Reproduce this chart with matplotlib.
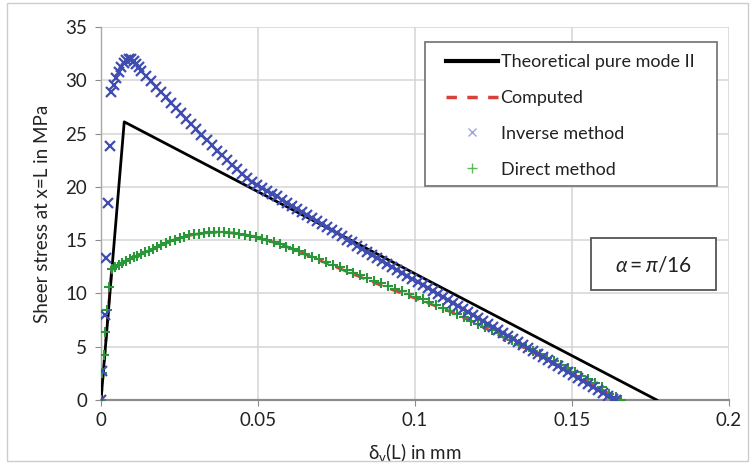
import matplotlib
matplotlib.use('Agg')
import matplotlib.pyplot as plt
from matplotlib.lines import Line2D
from matplotlib.patches import Rectangle
from matplotlib.ticker import FuncFormatter

# ---------------- data ----------------
theory_x = [0.0, 0.0074, 0.177]
theory_y = [0.0, 26.1, 0.0]

computed_x = [0, 0.0034, 0.008, 0.0125, 0.017, 0.021, 0.025, 0.029, 0.033, 0.037,
              0.041, 0.045, 0.05, 0.055, 0.06, 0.07, 0.08, 0.09, 0.1, 0.11,
              0.12, 0.13, 0.14, 0.15, 0.16, 0.1655]
computed_y = [0, 12.3, 13.05, 13.65, 14.2, 14.8, 15.2, 15.5, 15.68, 15.75,
              15.7, 15.55, 15.25, 14.8, 14.3, 13.05, 11.85, 10.65, 9.55, 8.45,
              7.1, 5.6, 4.1, 2.6, 0.9, 0]

inverse_x = [0.0, 0.0003, 0.0012, 0.0017, 0.0023, 0.0029, 0.0033, 0.0040, 0.0048, 0.0056,
             0.0064, 0.0072, 0.0080, 0.0088, 0.0096, 0.0104, 0.0112, 0.0120, 0.0128, 0.0144,
             0.0160, 0.0176, 0.0192, 0.0208, 0.0224, 0.0240, 0.0256, 0.0272, 0.0288, 0.0304,
             0.0320, 0.0336, 0.0352, 0.0368, 0.0384, 0.0400, 0.0416, 0.0432, 0.0448, 0.0464,
             0.0480, 0.0496, 0.0512, 0.0528, 0.0544, 0.0560, 0.0576, 0.0592, 0.0608, 0.0624,
             0.0640, 0.0656, 0.0672, 0.0688, 0.0704, 0.0720, 0.0736, 0.0752, 0.0768, 0.0784,
             0.0800, 0.0816, 0.0832, 0.0848, 0.0864, 0.0880, 0.0896, 0.0912, 0.0928, 0.0944,
             0.0960, 0.0976, 0.0992, 0.1008, 0.1024, 0.1040, 0.1056, 0.1072, 0.1088, 0.1104,
             0.1120, 0.1136, 0.1152, 0.1168, 0.1184, 0.1200, 0.1216, 0.1232, 0.1248, 0.1264,
             0.1280, 0.1296, 0.1312, 0.1328, 0.1344, 0.1360, 0.1376, 0.1392, 0.1408, 0.1424,
             0.1440, 0.1456, 0.1472, 0.1488, 0.1504, 0.1520, 0.1536, 0.1552, 0.1568, 0.1584,
             0.1600, 0.1616, 0.1632, 0.1640]
inverse_y = [0.0, 2.7, 8.0, 13.3, 18.5, 23.8, 28.9, 29.6, 30.2, 30.8,
             31.2, 31.6, 31.9, 32.0, 32.0, 31.8, 31.5, 31.2, 30.9, 30.4,
             29.9, 29.4, 28.9, 28.4, 27.9, 27.4, 26.9, 26.4, 25.9, 25.4,
             24.9, 24.4, 23.9, 23.4, 22.95, 22.5, 22.05, 21.65, 21.25, 20.85,
             20.5, 20.2, 19.9, 19.6, 19.35, 19.1, 18.81, 18.52, 18.24, 17.95,
             17.66, 17.37, 17.08, 16.79, 16.51, 16.22, 15.93, 15.64, 15.35, 15.06,
             14.78, 14.49, 14.2, 13.91, 13.62, 13.34, 13.05, 12.76, 12.47, 12.18,
             11.9, 11.61, 11.32, 11.06, 10.78, 10.5, 10.22, 9.94, 9.66, 9.38,
             9.1, 8.82, 8.54, 8.26, 7.98, 7.7, 7.42, 7.14, 6.86, 6.58,
             6.3, 6.02, 5.74, 5.46, 5.18, 4.9, 4.62, 4.34, 4.06, 3.78,
             3.5, 3.22, 2.94, 2.66, 2.38, 2.1, 1.82, 1.54, 1.26, 0.98,
             0.7, 0.42, 0.14, 0.0]

direct_x = [0, 0.0003, 0.0008, 0.0014, 0.0020, 0.0027, 0.0034, 0.0045, 0.0056, 0.0068,
            0.0080, 0.0092, 0.0104, 0.0116, 0.0128, 0.0140, 0.0152, 0.0165, 0.0178, 0.0192,
            0.0206, 0.0220, 0.0235, 0.0250, 0.0265, 0.0280, 0.0296, 0.0312, 0.0328, 0.0344,
            0.0360, 0.0376, 0.0392, 0.0408, 0.0424, 0.0440, 0.0458, 0.0476, 0.0494, 0.0512,
            0.0530, 0.0550, 0.0570, 0.0590, 0.0610, 0.0630, 0.0650, 0.0672, 0.0694, 0.0716,
            0.0738, 0.0760, 0.0782, 0.0804, 0.0826, 0.0848, 0.0870, 0.0892, 0.0914, 0.0936,
            0.0958, 0.0980, 0.1002, 0.1024, 0.1046, 0.1068, 0.1090, 0.1112, 0.1134, 0.1156,
            0.1178, 0.1200, 0.1222, 0.1244, 0.1266, 0.1288, 0.1310, 0.1332, 0.1354, 0.1376,
            0.1398, 0.1420, 0.1442, 0.1464, 0.1486, 0.1508, 0.1530, 0.1552, 0.1574, 0.1596,
            0.1618, 0.1640, 0.1655]
direct_y = [0, 2.5, 4.2, 6.4, 8.4, 10.6, 12.3, 12.5, 12.7, 12.9,
            13.05, 13.25, 13.4, 13.55, 13.7, 13.85, 14.0, 14.2, 14.35, 14.55,
            14.75, 14.9, 15.05, 15.2, 15.3, 15.45, 15.55, 15.62, 15.68, 15.72,
            15.75, 15.75, 15.72, 15.7, 15.65, 15.6, 15.5, 15.4, 15.3, 15.15,
            15.0, 14.85, 14.65, 14.4, 14.2, 13.95, 13.7, 13.45, 13.2, 12.95,
            12.7, 12.45, 12.2, 11.95, 11.7, 11.45, 11.2, 10.95, 10.7, 10.45,
            10.2, 9.95, 9.7, 9.45, 9.2, 8.95, 8.65, 8.35, 8.05, 7.75,
            7.45, 7.15, 6.85, 6.55, 6.25, 5.95, 5.62, 5.3, 4.97, 4.64,
            4.3, 3.97, 3.63, 3.3, 2.97, 2.63, 2.29, 1.94, 1.59, 1.24,
            0.58, 0.24, 0.0]

x_ticks = [0, 0.05, 0.1, 0.15, 0.2]
y_ticks = [0, 5, 10, 15, 20, 25, 30, 35]

series_labels = ["Theoretical pure mode II", "Computed", "Inverse method", "Direct method"]
x_label = r"$\mathregular{\delta_v}$(L) in mm"
y_label = "Sheer stress at x=L in MPa"
annotation = r"$\alpha = \pi/16$"

# ---------------- styling ----------------
plt.rcParams['font.family'] = ['Lato', 'DejaVu Sans']
plt.rcParams['mathtext.fontset'] = 'custom'
plt.rcParams['mathtext.rm'] = 'Lato'
plt.rcParams['mathtext.it'] = 'Lato:italic'

W, H = 754, 468
fig = plt.figure(figsize=(W / 100, H / 100), dpi=100)
ax = fig.add_axes([101 / W, 68 / H, 628 / W, 373 / H])

blue = '#3f4db0'
green = '#2a9838'
red = '#d8403a'

ax.plot(computed_x, computed_y, color=red, lw=2.0, ls=(0, (4, 3)), zorder=3)
ax.plot(theory_x, theory_y, color='black', lw=2.0, zorder=4)
ax.plot(direct_x, direct_y, ls='none', marker='+', ms=7.5, mew=1.5, color=green, zorder=5)
ax.plot(inverse_x, inverse_y, ls='none', marker='x', ms=6.5, mew=1.6, color=blue, zorder=6)

ax.set_xlim(0, 0.2)
ax.set_ylim(0, 35)
ax.set_xticks(x_ticks)
ax.set_yticks(y_ticks)
ax.xaxis.set_major_formatter(FuncFormatter(lambda v, p: f"{v:g}"))
ax.yaxis.set_major_formatter(FuncFormatter(lambda v, p: f"{v:g}"))
ax.grid(True, color='#d4d4d4', lw=1.1)
ax.set_axisbelow(True)
for s in ['top', 'right']:
    ax.spines[s].set_visible(False)
ax.spines['left'].set_color('#a8a8a8')
ax.spines['bottom'].set_color('#8c8c8c')
ax.spines['left'].set_linewidth(1.0)
ax.spines['bottom'].set_linewidth(1.6)
ax.tick_params(axis='both', colors='#8c8c8c', labelcolor='#222222', labelsize=13.5, length=4)
ax.tick_params(axis='x', pad=5)
ax.tick_params(axis='y', pad=6)

ax.set_xlabel(x_label, fontsize=13.5, color='#222222', labelpad=8)
ax.set_ylabel(y_label, fontsize=13.5, color='#222222', labelpad=10)

# legend with a separate frame
handles = [
    Line2D([], [], color='black', lw=3.0),
    Line2D([], [], color=red, lw=2.5, ls=(0, (3.0, 3.0))),
    Line2D([], [], ls='none', marker='x', ms=6, mew=1.0, color='#9fa3dc'),
    Line2D([], [], ls='none', marker='+', ms=7, mew=1.0, color='#5cb85c'),
]
leg = fig.legend(handles, series_labels, loc='upper left',
                 bbox_to_anchor=(437 / W, 1 - 45 / H), frameon=False,
                 fontsize=13, handlelength=2.9, handletextpad=0.12,
                 labelspacing=1.1, borderpad=0.0, labelcolor='#222222')
fig.add_artist(Rectangle((425 / W, 1 - 186 / H), (717 - 425) / W, (186 - 42) / H,
                         transform=fig.transFigure, fill=True, facecolor='white',
                         edgecolor='#7a7a7a', lw=1.3, zorder=2))
leg.set_zorder(3)

# annotation box
fig.add_artist(Rectangle((591 / W, 1 - 290 / H), (716 - 591) / W, (290 - 238) / H,
                         transform=fig.transFigure, facecolor='white',
                         edgecolor='#555555', lw=1.3, zorder=2))
fig.text(653 / W, 1 - 265 / H, annotation, ha='center', va='center',
         fontsize=15, color='#222222', zorder=3)

# outer frame
fig.add_artist(Rectangle((7 / W, 1 - 461 / H), (748 - 7) / W, (461 - 3) / H,
                         transform=fig.transFigure, fill=False,
                         edgecolor='#cccccc', lw=1.0))

fig.savefig('out.png', dpi=100)
